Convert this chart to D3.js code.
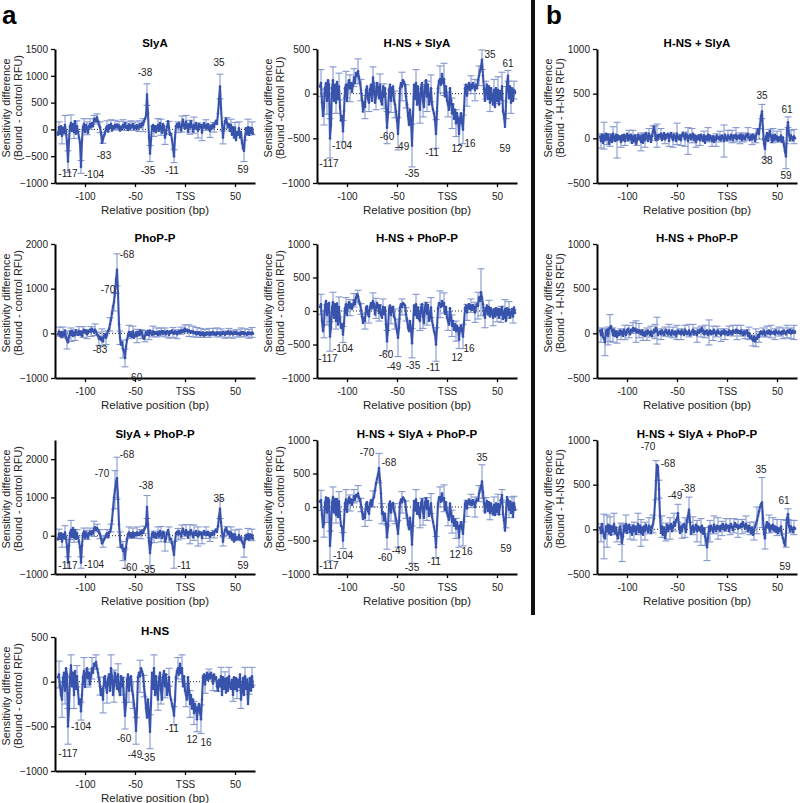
<!DOCTYPE html>
<html><head><meta charset="utf-8">
<script src="https://cdn.jsdelivr.net/npm/d3@7"></script>
<style>body{margin:0;background:#fff}svg{display:block;font-family:"Liberation Sans",Arial,Helvetica,sans-serif}</style>
</head><body><svg id="c" width="800" height="803"></svg>
<script>
// ---------- data: values per bp from -127 to +68 ----------
const POS_START = -127;
const xTickValues = [-100, -50, 0, 50];
const xTickLabels = ["-100", "-50", "TSS", "50"];

const slyA = [
 -100,40,-80,60,-120,30,-60,80,-40,-250,-600,-200,60,120,-30,100,-50,150,-80,60,
 -40,-150,-250,-700,-200,50,100,-50,80,20,-60,60,100,40,120,60,180,200,150,220,
 150,80,40,-60,-250,-180,-120,-60,20,60,-40,80,30,100,-20,60,20,80,40,90,
 30,70,-20,50,10,80,40,120,30,60,-10,90,20,70,40,100,10,60,30,80,
 20,60,100,40,120,80,150,200,250,650,300,-150,-450,-200,50,80,-30,60,-50,40,
 80,-20,120,40,-60,100,60,-150,-80,50,150,30,-100,-80,-200,-350,-500,-150,60,100,
 40,120,60,-20,100,180,60,20,140,80,-50,100,40,150,60,-40,80,20,120,40,
 -20,100,40,80,-60,60,120,30,80,20,100,40,-30,60,20,90,40,120,160,100,
 300,550,800,400,100,-150,20,150,200,120,50,100,-30,80,-100,40,-150,30,-200,-50,
 -100,20,-150,-50,-250,-350,-400,-150,20,-80,40,-100,30,-60,20,-80];
const slyAErr = [[-126,100],[-123,150],[-120,180],[-117,200],[-114,150],[-111,120],[-108,100],[-104,120],[-101,100],[-98,120],[-95,100],[-91,80],[-88,70],[-85,100],[-82,80],[-78,100],[-74,80],[-70,90],[-66,80],[-62,100],[-58,80],[-54,90],[-50,80],[-46,100],[-42,120],[-38,200],[-35,150],[-31,100],[-27,120],[-24,150],[-20,130],[-16,120],[-11,120],[-7,100],[-3,150],[1,120],[5,130],[9,150],[13,140],[17,150],[21,100],[25,120],[29,90],[35,230],[38,120],[42,100],[46,110],[50,100],[54,120],[59,200],[63,150],[67,120]];
const slyALabels = [["-38",-40,1065],["35",34,1245],["-83",-81,-496],["-117",-117,-832],["-104",-91,-838],["-35",-37,-763],["-11",-13,-763],["59",58,-745]];

const hns = [
 50,80,-50,-150,-200,40,100,-100,150,80,-500,-300,50,180,-50,100,-150,120,-80,60,
 -100,-250,-200,-330,-150,50,120,-60,80,150,40,100,-30,80,150,100,200,180,220,150,
 100,30,-50,-150,-80,-200,40,60,-60,-120,30,80,-100,150,60,-150,-50,100,40,-80,
 80,-100,-150,60,-50,40,-200,-380,-250,20,80,-100,40,60,-100,-150,-250,-350,-550,-300,
 50,100,60,150,120,80,-50,-150,-300,-400,-200,-350,-560,-250,100,-80,150,-150,60,-120,
 -200,40,100,-100,-200,50,120,-50,80,-150,-100,50,-150,-200,-250,-300,-380,-200,50,120,
 150,80,200,100,150,-50,60,-100,-150,-200,50,-100,-250,-150,-300,-200,-350,-250,-300,-420,
 -300,-250,-350,-420,-200,50,80,-30,60,100,20,80,40,100,60,-20,80,30,50,-50,
 -100,20,-50,60,-150,50,-80,30,-120,40,-100,60,-50,-80,20,-150,50,-80,40,-100,
 20,-60,80,-200,-100,40,-150,60,-80,20,-250,-50,40,-100,60,-60];
const hnsErr = [[-126,150],[-123,200],[-120,150],[-117,200],[-114,120],[-111,150],[-108,120],[-104,100],[-101,150],[-97,100],[-93,120],[-89,80],[-85,100],[-82,150],[-78,120],[-74,150],[-71,180],[-67,120],[-63,100],[-60,150],[-56,130],[-52,150],[-49,150],[-45,180],[-41,120],[-35,190],[-31,150],[-27,120],[-24,150],[-20,130],[-16,100],[-11,100],[-7,120],[-3,150],[1,130],[5,150],[9,130],[12,140],[16,160],[20,100],[24,60],[28,80],[32,60],[36,100],[40,80],[44,100],[48,70],[52,90],[56,100],[60,100],[64,90],[67,100]];
const hnsLabels = [["-117",-117,-801],["-104",-104,-499],["-60",-61,-638],["-49",-50,-819],["-35",-37,-846],["-11",-13,-529],["12",7,-642],["16",21,-680]];

const hnsSlyA = [
 80,120,-100,-250,-150,60,120,-80,150,100,-500,-350,60,150,-80,100,-100,130,-60,80,
 -150,-300,-250,-420,-200,60,100,-80,100,150,60,120,20,100,180,120,230,200,250,180,
 120,40,-60,-200,-100,-150,40,80,-60,-100,50,100,-80,180,80,-100,-30,120,60,-50,
 100,-80,-120,80,-30,60,-150,-380,-220,40,100,-80,60,80,-80,-120,-200,-300,-450,-250,
 60,120,80,150,130,100,-30,-120,-250,-350,-180,-300,-580,-250,100,-60,120,-120,80,-100,
 -180,60,120,-80,-150,80,150,-30,100,-120,-80,60,-120,-180,-220,-300,-450,-200,60,140,
 160,100,220,120,160,-30,80,-80,-120,-180,60,-80,-220,-120,-280,-180,-330,-220,-280,-450,
 -280,-220,-330,-400,-180,60,100,-20,80,120,40,100,60,120,80,40,100,60,150,200,
 250,300,380,200,50,-80,40,100,-60,80,-100,60,-40,-120,40,-150,60,-80,40,-120,
 30,-60,80,-200,-250,-370,-100,120,200,-50,80,-100,60,-80,40,20];
const hnsSlyAErr = [[-126,150],[-123,200],[-120,150],[-117,220],[-114,150],[-111,120],[-108,150],[-104,120],[-101,150],[-97,150],[-93,100],[-89,140],[-86,120],[-82,130],[-78,100],[-74,120],[-71,150],[-67,120],[-63,140],[-60,180],[-56,130],[-52,150],[-49,180],[-45,160],[-41,130],[-35,240],[-31,150],[-27,150],[-24,180],[-20,170],[-16,150],[-11,160],[-7,150],[-3,180],[1,140],[5,170],[9,150],[12,130],[16,160],[20,120],[24,100],[28,120],[32,110],[35,110],[39,100],[43,100],[47,120],[51,150],[55,160],[59,180],[61,60],[64,120],[67,100]];
const hnsSlyALabels = [["35",43,444],["61",61,335],["-117",-118,-777],["-104",-105,-583],["-60",-60,-478],["-49",-45,-597],["-35",-35,-889],["-11",-15,-657],["12",10,-612],["16",23,-553],["59",58,-612]];

const phoP = [
 -20,40,-60,30,-80,20,-50,60,-100,-150,-200,-80,40,-30,50,-60,20,-40,60,10,
 -30,50,-20,40,-60,30,80,20,60,-20,50,30,80,40,100,60,20,80,40,-20,
 -60,-120,-80,-150,-100,-180,-60,-20,-100,-40,50,100,200,300,450,600,700,900,1200,1420,
 900,200,-100,-250,-200,-350,-400,-550,-300,-150,-50,30,-60,20,-80,40,-100,-50,20,-60,
 30,-40,60,-20,40,-80,-120,-60,20,-30,50,-40,60,10,-30,40,-20,30,-10,20,
 -30,40,-20,30,50,-10,40,20,-20,50,30,-30,40,10,60,20,-10,40,30,-20,
 20,50,10,60,30,80,40,100,60,80,40,60,30,50,20,40,10,30,-20,20,
 -10,30,-40,10,-30,20,-50,0,-30,20,-20,10,-40,20,-10,30,-20,10,-30,20,
 -10,20,-30,10,-20,30,0,-30,20,-10,40,10,-20,30,0,-20,20,-10,30,0,
 -20,10,-30,20,-10,30,-20,10,0,-30,20,-10,10,-20,20,-10];
const phoPErr = [[-126,100],[-122,120],[-118,200],[-114,150],[-110,120],[-106,100],[-102,120],[-98,100],[-94,110],[-90,130],[-86,150],[-83,200],[-79,150],[-75,150],[-71,200],[-68,360],[-65,150],[-62,200],[-60,200],[-56,150],[-52,120],[-48,150],[-44,100],[-40,130],[-36,100],[-32,120],[-28,100],[-24,90],[-20,100],[-16,80],[-12,110],[-8,100],[-4,80],[0,90],[4,130],[8,120],[12,110],[16,100],[20,90],[24,100],[28,80],[32,100],[36,90],[40,80],[44,100],[48,90],[52,80],[56,100],[60,90],[64,100],[67,110]];
const phoPLabels = [["-68",-58,1767],["-70",-77,976],["-83",-85,-358],["-60",-50,-978]];

const hnsPhoP = [
 60,100,-150,-300,-200,80,150,-60,100,120,-380,-250,50,130,-100,100,-150,110,-200,60,
 -120,-250,-200,-350,-180,40,100,-60,80,130,50,100,30,90,160,100,200,250,220,150,
 100,30,-80,-180,-100,-150,50,70,-50,-80,60,120,50,150,100,-50,40,120,80,-30,
 80,-60,-100,60,-40,50,-200,-450,-280,30,80,-60,40,60,-80,-120,-220,-300,-400,-250,
 50,100,60,120,100,80,-50,-120,-250,-300,-150,-280,-480,-220,80,-60,100,-100,50,-120,
 -150,50,100,-80,-180,60,120,-40,90,-150,-100,50,-150,-220,-300,-350,-500,-250,40,120,
 100,60,150,80,120,-40,60,-100,-150,-200,40,-100,-220,-150,-280,-200,-300,-220,-260,-430,
 -260,-220,-300,-380,-180,40,80,-20,60,100,30,80,20,90,50,-20,60,100,80,200,
 150,280,200,100,-50,-100,40,80,-50,60,-80,40,-30,-100,20,-80,40,-60,30,-100,
 20,-50,60,-120,-80,30,-150,40,-60,20,-100,-40,30,-80,50,-30];
const hnsPhoPErr = [[-126,150],[-123,200],[-120,150],[-117,220],[-114,150],[-111,120],[-108,150],[-104,120],[-101,100],[-97,120],[-93,100],[-89,90],[-86,80],[-82,120],[-78,100],[-74,120],[-71,150],[-68,120],[-64,120],[-60,160],[-56,130],[-52,150],[-49,280],[-45,120],[-41,100],[-35,220],[-31,150],[-27,140],[-24,180],[-20,170],[-16,150],[-11,250],[-7,200],[-3,150],[1,140],[5,160],[9,150],[12,130],[16,180],[20,120],[24,100],[28,150],[31,200],[34,350],[38,150],[42,100],[46,120],[50,100],[54,120],[58,140],[62,120],[66,100]];
const hnsPhoPLabels = [["-117",-119,-708],["-104",-104,-557],["-60",-61,-650],["-49",-53,-830],["-35",-34,-815],["-11",-14,-839],["12",10,-698],["16",22,-557]];

const slyAPhoP = [
 -100,50,-80,60,-150,30,-60,80,-50,-300,-700,-250,60,150,-30,200,-50,150,-80,60,
 -50,-150,-300,-700,-250,50,100,-50,80,20,-60,60,100,40,120,60,180,220,150,200,
 150,80,40,-60,-200,-150,-100,-60,20,60,-40,80,100,200,400,700,1000,1200,1400,1500,
 1000,300,-100,-300,-250,-400,-350,-600,-300,-100,40,80,-20,60,-40,80,-30,60,20,80,
 20,60,100,40,120,80,150,200,250,750,300,-150,-450,-200,50,80,-30,60,-50,40,
 80,-20,120,40,-60,100,60,-150,-80,50,150,30,-100,-80,-200,-350,-500,-150,60,100,
 40,120,60,-20,100,180,60,20,140,80,-50,100,40,150,60,-40,80,20,120,40,
 -20,100,40,80,-60,60,120,30,80,20,100,40,-30,60,20,90,40,120,160,100,
 250,500,700,350,100,-150,20,150,200,120,50,100,-30,80,-100,40,-150,30,-100,-50,
 -80,20,-100,-50,-150,-200,-300,-100,20,-80,40,-100,30,-60,20,-80];
const slyAPhoPErr = [[-126,120],[-123,150],[-120,180],[-117,150],[-114,250],[-111,120],[-108,100],[-104,150],[-101,100],[-98,120],[-95,100],[-91,200],[-88,100],[-85,120],[-82,150],[-78,100],[-74,100],[-70,500],[-68,550],[-65,200],[-62,250],[-60,250],[-56,150],[-52,120],[-48,150],[-44,120],[-41,100],[-38,300],[-35,400],[-31,150],[-27,150],[-24,200],[-20,250],[-16,200],[-11,350],[-7,150],[-3,180],[1,150],[5,250],[9,200],[13,250],[17,150],[21,150],[25,120],[29,100],[35,250],[38,120],[42,120],[46,150],[50,120],[54,150],[59,260],[63,150],[67,150]];
const slyAPhoPLabels = [["-68",-58,2112],["-70",-83,1615],["-38",-39,1302],["35",34,964],["-117",-117,-773],["-104",-91,-757],["-60",-55,-825],["-35",-37,-878],["-11",-1,-791],["59",58,-773]];

const hnsSlyAPhoP = [
 80,100,-120,-300,-250,60,140,-80,130,100,-580,-350,60,150,-80,120,-120,120,-150,80,
 -130,-280,-300,-500,-220,50,110,-70,90,140,60,110,30,100,160,110,180,160,200,140,
 110,30,-70,-180,-100,-160,40,70,-60,-100,50,100,20,120,150,250,350,420,480,580,
 400,200,-100,-80,-200,-100,-250,-450,-300,30,80,-80,40,60,-60,-100,-180,-280,-400,-220,
 60,110,70,140,120,90,-40,-130,-260,-330,-160,-300,-560,-240,90,-50,110,-100,60,-110,
 -160,60,110,-70,-160,70,130,-30,90,-130,-90,50,-140,-220,-300,-400,-600,-280,50,140,
 150,80,200,100,130,-40,70,-90,-140,-190,50,-90,-220,-140,-280,-190,-320,-230,-290,-450,
 -280,-230,-320,-400,-190,50,90,-20,70,110,40,90,30,100,60,0,80,120,100,200,
 250,300,380,220,60,-80,40,90,-60,70,-90,50,-40,-110,30,-120,50,-70,40,-110,
 20,100,180,-100,-200,-350,-120,150,100,-40,80,-90,50,-150,60,-40];
const hnsSlyAPhoPErr = [[-126,150],[-123,200],[-120,150],[-117,220],[-114,150],[-111,120],[-108,150],[-104,120],[-101,150],[-97,120],[-93,100],[-89,120],[-86,100],[-82,130],[-78,100],[-74,120],[-68,220],[-65,150],[-60,180],[-56,130],[-52,150],[-49,200],[-45,160],[-41,130],[-35,280],[-31,150],[-27,150],[-24,200],[-20,170],[-16,150],[-11,160],[-7,150],[-3,200],[1,140],[5,170],[9,150],[12,150],[16,180],[20,120],[24,100],[28,150],[32,120],[35,250],[39,100],[43,100],[47,120],[51,150],[55,80],[59,190],[62,120],[65,100],[67,100]];
const hnsSlyAPhoPLabels = [["-70",-80,810],["-68",-58,660],["35",35,746],["-117",-118,-870],["-104",-104,-720],["-60",-62,-760],["-49",-48,-655],["-35",-35,-910],["-11",-13,-810],["12",8,-710],["16",20,-660],["59",59,-626]];

const bSlyA = [
 20,-30,40,-50,30,-20,50,-10,40,-60,-20,30,-40,50,10,-30,40,-20,30,-10,
 20,-40,30,-20,40,-30,20,50,-20,30,-10,40,-50,20,-30,30,-60,-20,40,-10,
 20,-40,30,-50,40,-20,60,20,-30,50,20,-40,30,80,130,60,-20,30,-10,40,
 20,50,-20,30,60,-10,40,20,50,-30,30,60,10,-20,40,20,-30,50,10,-10,
 30,-20,40,60,20,-10,50,30,-30,20,40,-10,30,50,-20,30,-40,20,-10,30,
 -20,40,10,-30,30,-50,20,-10,40,-20,30,0,-30,20,-40,10,-20,30,10,-10,
 20,-20,30,10,-30,40,0,-20,30,10,-10,40,20,-20,30,10,40,-10,20,30,
 0,40,-20,30,10,-10,40,20,50,10,-20,30,-10,40,20,-30,30,60,100,50,
 150,250,300,100,-60,-120,20,60,-30,40,80,20,-40,30,-20,40,-10,20,-30,10,
 -20,30,-40,10,-80,-150,-200,100,180,40,-20,30,10,-20,20,0];
const bSlyAErr = [[-126,80],[-123,150],[-120,60],[-117,70],[-114,80],[-110,200],[-106,60],[-102,50],[-98,60],[-94,70],[-90,60],[-86,100],[-82,80],[-78,60],[-74,60],[-72,80],[-70,130],[-66,60],[-62,50],[-58,60],[-54,80],[-50,120],[-46,60],[-42,80],[-39,150],[-35,80],[-31,60],[-27,60],[-23,50],[-19,80],[-15,60],[-11,70],[-7,60],[-3,180],[1,60],[5,70],[9,80],[13,60],[17,50],[21,70],[25,60],[29,80],[32,60],[35,80],[38,100],[42,60],[46,80],[50,60],[54,70],[59,140],[61,60],[64,60],[67,80]];
const bSlyALabels = [["35",35,477],["61",60,320],["38",40,-247],["59",59,-411]];

const bPhoP = [
 30,-20,40,-40,-60,-100,20,40,-30,50,60,80,30,-20,40,-30,20,-40,10,-20,
 30,-10,20,-30,40,10,-20,30,50,20,-10,40,20,60,30,50,20,40,10,30,
 20,-10,30,-20,10,-30,20,-10,30,10,-20,20,-30,10,40,20,60,30,-20,10,
 20,-10,30,10,-20,20,40,10,-10,30,0,-20,30,10,-10,20,-30,10,30,0,
 20,-10,30,10,-20,40,20,-10,10,30,-20,0,20,40,-10,20,10,-20,30,10,
 40,20,60,30,-10,20,0,30,-20,10,30,-10,20,0,40,10,-20,20,30,0,
 10,-20,20,0,30,-10,20,10,-20,30,0,20,-10,30,10,20,40,10,30,20,
 0,30,10,-20,20,-10,10,30,-30,0,-50,-30,-60,-80,-40,-90,-50,-60,-20,-40,
 0,20,-10,10,30,-20,10,20,0,30,-10,20,10,0,20,-10,30,10,0,20,
 10,-10,20,0,30,10,-10,20,30,10,40,0,20,30,10,20];
const bPhoPErr = [[-126,80],[-122,150],[-119,100],[-117,150],[-114,80],[-110,70],[-106,60],[-102,80],[-98,70],[-94,60],[-91,120],[-88,80],[-84,60],[-80,70],[-76,60],[-72,80],[-70,150],[-66,60],[-62,50],[-58,70],[-54,60],[-50,80],[-46,60],[-42,50],[-38,70],[-34,60],[-30,80],[-26,60],[-22,70],[-18,140],[-14,80],[-10,60],[-6,70],[-2,60],[2,50],[6,60],[10,80],[14,60],[18,50],[22,70],[26,60],[29,100],[32,60],[36,50],[40,60],[44,70],[48,60],[52,50],[56,60],[60,70],[64,60],[67,80]];
const bPhoPLabels = [];

const bSlyAPhoP = [
 20,-40,60,-30,-80,-100,30,-20,50,-40,40,-60,30,-20,60,-40,20,-60,-100,-40,
 30,-50,-150,-80,40,-20,60,-40,30,50,-30,20,-60,40,-20,30,-50,20,60,-30,
 40,-40,20,-60,30,-20,50,10,-30,40,20,-40,30,60,120,300,550,720,700,450,
 150,-40,30,-60,20,-100,-30,50,-20,40,10,60,-20,30,80,40,100,120,180,20,
 -40,30,-20,40,60,20,-30,100,150,220,80,-50,20,40,-30,10,50,-20,30,-10,
 20,-30,40,-50,10,-80,-120,-200,-100,30,-20,40,10,-30,50,20,-20,40,10,30,
 -20,40,10,60,30,-10,50,20,40,-20,30,60,20,-10,40,70,30,50,10,40,
 20,60,30,80,40,10,60,30,-20,40,10,-40,20,-60,-20,30,60,100,150,200,
 250,280,300,120,-50,-100,40,80,20,60,-20,40,10,50,-10,30,-30,20,-40,10,
 -20,30,-60,-100,-150,-180,-50,120,170,40,-20,30,10,-30,20,10];
const bSlyAPhoPErr = [[-126,100],[-123,250],[-120,180],[-117,100],[-113,120],[-110,80],[-106,120],[-105,210],[-101,100],[-97,80],[-93,100],[-89,120],[-86,150],[-82,100],[-78,90],[-74,100],[-71,220],[-68,100],[-65,120],[-61,100],[-57,120],[-53,100],[-49,100],[-45,80],[-42,110],[-38,140],[-34,100],[-30,120],[-26,150],[-22,100],[-20,150],[-17,120],[-13,100],[-9,120],[-5,80],[-1,70],[3,90],[7,80],[11,100],[15,80],[19,90],[23,70],[27,100],[30,150],[35,280],[38,120],[42,100],[46,80],[50,90],[54,80],[59,150],[61,60],[64,70],[67,80]];
const bSlyAPhoPLabels = [["-70",-79,925],["-68",-59,742],["-49",-52,381],["-38",-39,457],["35",34,666],["61",57,324],["59",58,-417]];

// ---------- layout ----------
const COLS = [55, 317, 597];
const ROWS = [49, 244, 440, 637];
const W = 200, H = 134;
const YLAB_A = "(Bound - control RFU)";
const panels = [
 {t:"SlyA", v:slyA, e:slyAErr, l:slyALabels, d:[-1000,1500], ticks:[-1000,-500,0,500,1000,1500], c:0, r:0, y2:YLAB_A},
 {t:"H-NS + SlyA", v:hnsSlyA, e:hnsSlyAErr, l:hnsSlyALabels, d:[-1000,500], ticks:[-1000,-500,0,500], c:1, r:0, y2:"(Bound -control RFU)"},
 {t:"H-NS + SlyA", v:bSlyA, e:bSlyAErr, l:bSlyALabels, d:[-500,1000], ticks:[-500,0,500,1000], c:2, r:0, y2:"(Bound - H-NS RFU)"},
 {t:"PhoP-P", v:phoP, e:phoPErr, l:phoPLabels, d:[-1000,2000], ticks:[-1000,0,1000,2000], c:0, r:1, y2:YLAB_A},
 {t:"H-NS + PhoP-P", v:hnsPhoP, e:hnsPhoPErr, l:hnsPhoPLabels, d:[-1000,1000], ticks:[-1000,-500,0,500,1000], c:1, r:1, y2:YLAB_A},
 {t:"H-NS + PhoP-P", v:bPhoP, e:bPhoPErr, l:bPhoPLabels, d:[-500,1000], ticks:[-500,0,500,1000], c:2, r:1, y2:"(Bound - H-NS RFU)"},
 {t:"SlyA + PhoP-P", v:slyAPhoP, e:slyAPhoPErr, l:slyAPhoPLabels, d:[-1000,2500], ticks:[-1000,0,1000,2000], c:0, r:2, y2:YLAB_A},
 {t:"H-NS + SlyA + PhoP-P", v:hnsSlyAPhoP, e:hnsSlyAPhoPErr, l:hnsSlyAPhoPLabels, d:[-1000,1000], ticks:[-1000,-500,0,500,1000], c:1, r:2, y2:YLAB_A},
 {t:"H-NS + SlyA + PhoP-P", v:bSlyAPhoP, e:bSlyAPhoPErr, l:bSlyAPhoPLabels, d:[-500,1000], ticks:[-500,0,500,1000], c:2, r:2, y2:"(Bound - H-NS RFU)"},
 {t:"H-NS", v:hns, e:hnsErr, l:hnsLabels, d:[-1000,500], ticks:[-1000,-500,0,500], c:0, r:3, y2:YLAB_A}
];

const LINE = "#3853ab", ERR = "#8597cf";
const svg = d3.select("#c");
svg.append("rect").attr("width",800).attr("height",803).attr("fill","#fff");

svg.append("text").attr("x",2).attr("y",24).attr("font-size",26).attr("font-weight","bold").text("a");
svg.append("text").attr("x",546).attr("y",24).attr("font-size",26).attr("font-weight","bold").text("b");
svg.append("rect").attr("x",531).attr("y",0).attr("width",4).attr("height",615).attr("fill","#111");

panels.forEach(p => {
  const x0 = COLS[p.c], y0 = ROWS[p.r];
  const g = svg.append("g").attr("transform",`translate(${x0},${y0})`);
  const x = d3.scaleLinear().domain([-130,70]).range([0,W]);
  const y = d3.scaleLinear().domain(p.d).range([H,0]);
  const val = pos => p.v[pos - POS_START];

  // zero dotted line
  g.append("line").attr("x1",0).attr("x2",W).attr("y1",y(0)).attr("y2",y(0))
    .attr("stroke","#222").attr("stroke-width",1).attr("stroke-dasharray","1,2");

  // error bars
  const eg = g.append("g").attr("stroke",ERR).attr("stroke-width",1.1).attr("fill","none");
  p.e.forEach(([pos,sd]) => {
    const v = val(pos), px = x(pos);
    const yt = y(v+sd), yb = y(v-sd);
    eg.append("line").attr("x1",px).attr("x2",px).attr("y1",yt).attr("y2",yb);
    eg.append("line").attr("x1",px-3.5).attr("x2",px+3.5).attr("y1",yt).attr("y2",yt);
    eg.append("line").attr("x1",px-3.5).attr("x2",px+3.5).attr("y1",yb).attr("y2",yb);
  });

  // data line
  const line = d3.line().x((d,i)=>x(POS_START+i)).y(d=>y(d));
  g.append("path").datum(p.v).attr("d",line).attr("fill","none")
    .attr("stroke",LINE).attr("stroke-width",2.1).attr("stroke-linejoin","round");
  g.selectAll("circle.pt").data(p.v).join("circle").attr("class","pt")
    .attr("cx",(d,i)=>x(POS_START+i)).attr("cy",d=>y(d)).attr("r",1.3).attr("fill",LINE);

  // axes
  const ya = d3.axisLeft(y).tickValues(p.ticks).tickSize(4).tickSizeOuter(0).tickFormat(d3.format("d"));
  const yg = g.append("g").call(ya);
  const xa = d3.axisBottom(x).tickValues(xTickValues).tickSize(4).tickSizeOuter(0)
    .tickFormat((d,i)=>xTickLabels[i]);
  const xg = g.append("g").attr("transform",`translate(0,${H})`).call(xa);
  [yg,xg].forEach(a=>{
    a.select(".domain").attr("stroke","#000").attr("stroke-width",2);
    a.selectAll(".tick line").attr("stroke","#000").attr("stroke-width",1.3);
    a.selectAll(".tick text").attr("font-size",10).attr("fill","#222")
      .attr("font-family","'Liberation Sans',Arial,sans-serif");
  });
  xg.selectAll(".tick text").attr("dy","0.95em");

  // title
  g.append("text").attr("x",W/2).attr("y",-2).attr("text-anchor","middle")
    .attr("font-size",11.5).attr("font-weight","bold").text(p.t);
  // x label
  g.append("text").attr("x",W/2).attr("y",H+31).attr("text-anchor","middle")
    .attr("font-size",11.5).attr("fill","#222").text("Relative position (bp)");
  // y label
  const yl = g.append("text").attr("transform",`translate(${-49},${H/2-8}) rotate(-90)`)
    .attr("text-anchor","middle").attr("font-size",10.8).attr("fill","#222");
  yl.append("tspan").attr("x",0).attr("dy","0.35em").text("Sensitivity difference");
  yl.append("tspan").attr("x",0).attr("dy","1.15em").text(p.y2);

  // peak labels
  g.append("g").selectAll("text").data(p.l).join("text")
    .attr("x",d=>x(d[1])).attr("y",d=>y(d[2])).attr("dy","0.35em")
    .attr("text-anchor","middle").attr("font-size",10).attr("fill","#222").text(d=>d[0]);
});
</script></body></html>
